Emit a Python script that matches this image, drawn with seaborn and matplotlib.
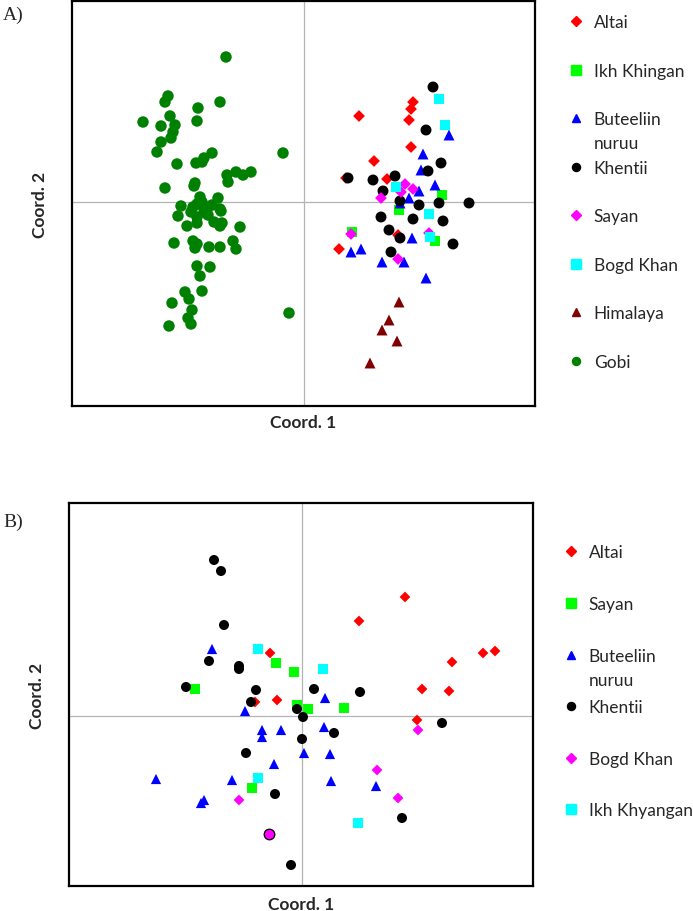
import numpy as np
import pandas as pd
import seaborn as sns
import matplotlib.pyplot as plt
from matplotlib.lines import Line2D

sns.set_style('white')
plt.rcParams['font.family'] = ['Lato', 'DejaVu Sans']

# ---------------- panel A : coordinates ----------------
a_groups = ['Altai', 'Ikh Khingan', 'Buteeliin', 'Khentii', 'Sayan',
            'Bogd Khan', 'Himalaya', 'Gobi']

a_altai_x = [109, 107, 55, 105, 107, 70, 83, 42, 35, 94]
a_altai_y = [100, 93, 86, 82, 55, 41, 23, 24, -47, -33]

a_ikh_x = [138, 95, 48, 131]
a_ikh_y = [7, -8, -30, -39]

a_bute_x = [145, 119, 117, 131, 115, 105, 96, 108, 47, 57, 78, 100, 122]
a_bute_y = [67, 48, 32, 17, 11, 4, -1, -36, -50, -47, -60, -60, -76]

a_khen_x = [129, 122, 137, 124, 44, 69, 91, 79, 165, 135, 115, 96, 77, 109,
            139, 85, 96, 149, 87]
a_khen_y = [115, 72, 39, 31, 24, 22, 26, 11, -1, -1, -3, 1, -15, -17,
            -19, -28, -36, -42, -50]

a_sayan_x = [101, 109, 97, 77, 47, 125, 94]
a_sayan_y = [18, 13, 10, 4, -32, -31, -57]

a_bogd_x = [135, 141, 92, 125, 126]
a_bogd_y = [103, 77, 15, -12, -35]

a_hima_x = [95, 85, 78, 93, 66]
a_hima_y = [-100, -118, -128, -139, -161]

a_gobi_x = [-78, -136, -139, -84, -106, -134, -107, -161, -143, -129, -131,
            -133, -143, -147, -92, -100, -102, -108, -127, -21, -77, -68, -61,
            -53, -76, -139, -109, -110, -104, -86, -123, -107, -101, -84,
            -102, -111, -97, -83, -126, -107, -96, -90, -82, -84, -107, -117,
            -64, -130, -111, -107, -109, -95, -84, -71, -68, -107, -94, -104,
            -119, -102, -115, -132, -112, -116, -113, -135, -15, -113, -100,
            -92]
a_gobi_y = [145, 106, 100, 100, 94, 86, 81, 80, 76, 77, 70, 64, 60, 50, 49,
            44, 40, 39, 38, 49, 27, 30, 27, 30, 20, 14, 19, 16, 5, 4, -4, -2,
            -4, -7, 0, -5, -7, -9, -14, -15, -13, -20, -21, -24, -21, -24,
            -25, -41, -39, -42, -46, -45, -45, -39, -47, -64, -65, -74, -90,
            -89, -97, -101, -108, -116, -122, -124, -111, -10, -10, -3]

# ---------------- panel B ----------------
b_groups = ['Altai', 'Sayan', 'Buteeliin', 'Khentii', 'Bogd Khan',
            'Ikh Khyangan']

b_altai_x = [-32, -25, -47, 103, 57, 150, 181, 193, 120, 147, 115]
b_altai_y = [63, 16, 14, 119, 95, 54, 63, 65, 27, 25, -4]

b_sayan_x = [-26, -8, -107, -5, 6, 42, -50]
b_sayan_y = [53, 44, 27, 11, 7, 8, -72]

b_bute_x = [-90, -57, 23, -40, -40, -21, 22, 2, 28, -28, 29, 74, -70, -146,
            -98, -101]
b_bute_y = [67, 5, 18, -14, -21, -14, -11, -37, -38, -48, -65, -70, -64,
            -63, -84, -87]

b_khen_x = [-88, -81, -78, -93, -63, -63, -116, -46, -51, 12, 58, -5, 1, 32,
            0, -56, -27, -11, 140, 100, -33]
b_khen_y = [156, 145, 91, 55, 50, 47, 29, 26, 14, 27, 24, 7, -1, -17, -23,
            -37, -78, -149, -7, -102, -118]

b_bogd_x = [-63, 116, 75, 96]
b_bogd_y = [-84, -14, -54, -82]

# the one Bogd Khan sample sitting on a Khentii sample
b_ring_x = [-33]
b_ring_y = [-118]

b_ikh_x = [-44, 21, -44, 56]
b_ikh_y = [67, 47, -62, -107]


def make_df(parts):
    rows = []
    for name, xs, ys in parts:
        rows.append(pd.DataFrame({'x': xs, 'y': ys, 'group': name}))
    return pd.concat(rows, ignore_index=True)


df_a = make_df([('Altai', a_altai_x, a_altai_y),
                ('Ikh Khingan', a_ikh_x, a_ikh_y),
                ('Buteeliin', a_bute_x, a_bute_y),
                ('Khentii', a_khen_x, a_khen_y),
                ('Sayan', a_sayan_x, a_sayan_y),
                ('Bogd Khan', a_bogd_x, a_bogd_y),
                ('Himalaya', a_hima_x, a_hima_y),
                ('Gobi', a_gobi_x, a_gobi_y)])

df_b = make_df([('Altai', b_altai_x, b_altai_y),
                ('Sayan', b_sayan_x, b_sayan_y),
                ('Buteeliin', b_bute_x, b_bute_y),
                ('Khentii', b_khen_x, b_khen_y),
                ('Bogd Khan', b_bogd_x, b_bogd_y),
                ('Ikh Khyangan', b_ikh_x, b_ikh_y)])

pal_a = {'Altai': '#ff0000', 'Ikh Khingan': '#00ff00', 'Buteeliin': '#0000ff',
         'Khentii': '#000000', 'Sayan': '#ff00ff', 'Bogd Khan': '#00ffff',
         'Himalaya': '#800000', 'Gobi': '#008000'}
mk_a = {'Altai': 'D', 'Ikh Khingan': 's', 'Buteeliin': '^', 'Khentii': 'o',
        'Sayan': 'D', 'Bogd Khan': 's', 'Himalaya': '^', 'Gobi': 'o'}
sz_a = {'Altai': 36, 'Ikh Khingan': 52, 'Buteeliin': 62, 'Khentii': 62,
        'Sayan': 36, 'Bogd Khan': 52, 'Himalaya': 62, 'Gobi': 68}

pal_b = {'Altai': '#ff0000', 'Sayan': '#00ff00', 'Buteeliin': '#0000ff',
         'Khentii': '#000000', 'Bogd Khan': '#ff00ff', 'Ikh Khyangan': '#00ffff'}
mk_b = {'Altai': 'D', 'Sayan': 's', 'Buteeliin': '^', 'Khentii': 'o',
        'Bogd Khan': 'D', 'Ikh Khyangan': 's'}
sz_b = {'Altai': 30, 'Sayan': 44, 'Buteeliin': 54, 'Khentii': 52,
        'Bogd Khan': 30, 'Ikh Khyangan': 44}

fig = plt.figure(figsize=(6.93, 9.12), dpi=100)
W, H = 693, 912
ax_a = fig.add_axes([72 / W, 1 - 407 / H, 463 / W, 405 / H])
ax_b = fig.add_axes([69 / W, 1 - 887 / H, 464 / W, 383 / H])

LAB_FS = 12.5


def draw_panel(ax, df, pal, mk, sz, xlim, ylim, xpad):
    ax.axhline(0, color='#b4b4b4', lw=0.9, zorder=0)
    ax.axvline(0, color='#b4b4b4', lw=0.9, zorder=0)
    sns.scatterplot(data=df, x='x', y='y', hue='group', style='group',
                    size='group', palette=pal, markers=mk, sizes=sz,
                    linewidth=0, legend=False, ax=ax)
    ax.set_xlim(*xlim)
    ax.set_ylim(*ylim)
    ax.set_xticks([])
    ax.set_yticks([])
    for s in ax.spines.values():
        s.set_color('black')
        s.set_linewidth(1.6)
    ax.set_xlabel('Coord. 1', fontsize=LAB_FS, fontweight='bold', labelpad=xpad)
    ax.set_ylabel('Coord. 2', fontsize=LAB_FS, fontweight='bold', labelpad=17)


draw_panel(ax_a, df_a, pal_a, mk_a, sz_a, (-232, 231), (-204, 201), 6)
draw_panel(ax_b, df_b, pal_b, mk_b, sz_b, (-233, 231), (-170, 213), 7)
ax_b.scatter(b_ring_x, b_ring_y, s=58, color='#ff00ff', edgecolor='black',
             linewidth=0.9, zorder=3)

# legends
leg_ms = {'D': 5.2, 's': 6.5, '^': 6.2, 'o': 5.8}
LEG_FS = 12.5


def draw_legend(ax, groups, pal, mk, anchor, spacing):
    handles = [Line2D([], [], marker=mk[g], color=pal[g], linestyle='',
                      markersize=leg_ms[mk[g]]) for g in groups]
    leg = ax.legend(handles, groups, loc='upper left', bbox_to_anchor=anchor,
                    bbox_transform=fig.transFigure, frameon=False,
                    fontsize=LEG_FS, handlelength=0.75, handletextpad=0.68,
                    labelspacing=spacing, borderpad=0, borderaxespad=0)
    return leg


leg_a = draw_legend(ax_a, a_groups, pal_a, mk_a, (569 / W, 1 - 15.5 / H), 1.87)
leg_b = draw_legend(ax_b, b_groups, pal_b, mk_b, (564 / W, 1 - 545.5 / H), 2.05)

fig.text(3 / W, 1 - 15 / H, 'A)', family='Liberation Serif', fontsize=14,
         va='center', ha='left')
fig.text(3 / W, 1 - 522 / H, 'B)', family='Liberation Serif', fontsize=14,
         va='center', ha='left')

# second line of "Buteeliin nuruu" hangs below its legend row
fig.canvas.draw()
for leg in (leg_a, leg_b):
    t = leg.get_texts()[2]
    bb = t.get_window_extent()
    fig.text(bb.x0 / W, (bb.y0 - 24) / H, 'nuruu', fontsize=LEG_FS,
             va='bottom', ha='left')

fig.savefig('out.png', dpi=100)
